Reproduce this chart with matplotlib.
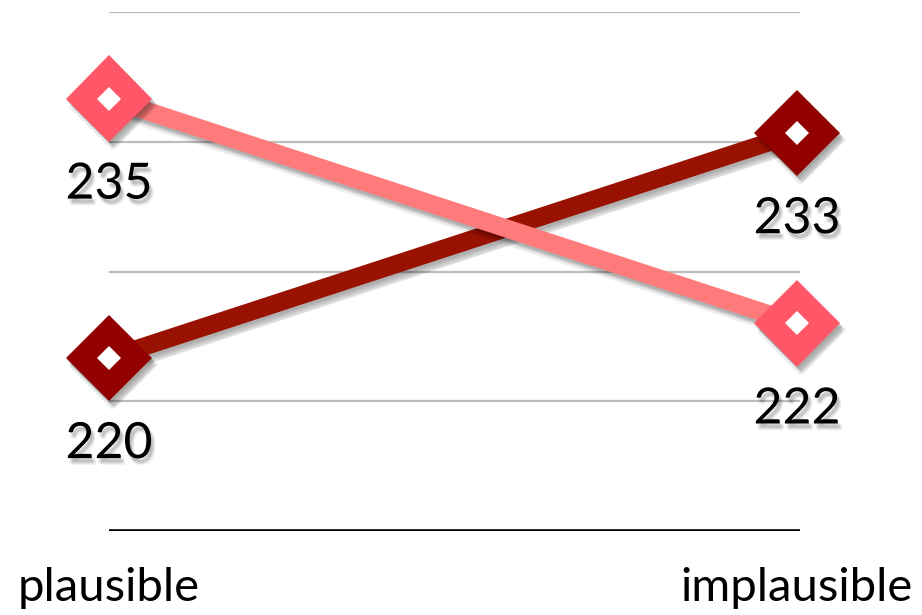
import matplotlib
matplotlib.use("Agg")
import matplotlib.pyplot as plt
import matplotlib.patheffects as pe

categories = ["plausible", "implausible"]
series_light = [235, 222]
series_dark = [220, 233]
y_min, y_max = 210, 240
grid_levels = [217.5, 225, 232.5, 240]

light_line = "#ff7b7b"
light_marker = "#ff5668"
dark_line = "#991100"
dark_marker = "#920000"

plt.rcParams["font.family"] = ["Lato", "DejaVu Sans"]

fig = plt.figure(figsize=(9.22, 6.15), dpi=100)
ax = fig.add_axes([109 / 922, 84 / 615, 691 / 922, 519 / 615])
x = list(range(len(categories)))

BLUR_STEPS = ((1, -2), (2, -3), (3, -4), (4, -5), (2, -6))


def soft_shadow(alpha=0.07, steps=BLUR_STEPS):
    effects = [pe.SimpleLineShadow(offset=o, shadow_color="black", alpha=alpha) for o in steps]
    return effects + [pe.Normal()]


def soft_patch_shadow(alpha=0.07, steps=BLUR_STEPS):
    effects = [pe.SimplePatchShadow(offset=o, shadow_rgbFace="black", alpha=alpha) for o in steps]
    return effects + [pe.Normal()]


text_shadow = soft_patch_shadow(0.05, ((1, -2), (2, -3), (3, -3), (2, -4), (3, -5), (1, -4)))

for lvl in grid_levels:
    ax.axhline(lvl, color="#bdbdbd", lw=1.6, zorder=0.5)
ax.axhline(y_min, color="black", lw=2.6, zorder=0.6)

# dark series first so the light series sits on top at the crossing
for vals, lc, mc, z in [(series_dark, dark_line, dark_marker, 2),
                        (series_light, light_line, light_marker, 3)]:
    ax.plot(x, vals, color=lc, lw=13, solid_capstyle="butt", zorder=z,
            clip_on=False, path_effects=soft_shadow())
    ax.plot(x, vals, linestyle="none", marker="D", markersize=44,
            markerfacecolor=mc, markeredgewidth=0, zorder=z + 0.1,
            clip_on=False, path_effects=soft_patch_shadow(0.08))
    ax.plot(x, vals, linestyle="none", marker="D", markersize=12,
            markerfacecolor="white", markeredgewidth=0, zorder=z + 0.2,
            clip_on=False)
    for xi, v in zip(x, vals):
        ax.annotate(str(v), (xi, v), xytext=(0, -62), textcoords="offset points",
                    ha="center", va="center", fontsize=36, color="black",
                    zorder=10, annotation_clip=False, path_effects=text_shadow)

ax.set_xlim(0, 691 / 688)
ax.set_ylim(y_min, y_max)
ax.set_xticks(x)
ax.set_xticklabels(categories, fontsize=34)
ax.tick_params(axis="x", length=0, pad=26)
ax.set_yticks([])
for s in ax.spines.values():
    s.set_visible(False)
ax.patch.set_visible(False)

fig.savefig("out.png", dpi=100)
